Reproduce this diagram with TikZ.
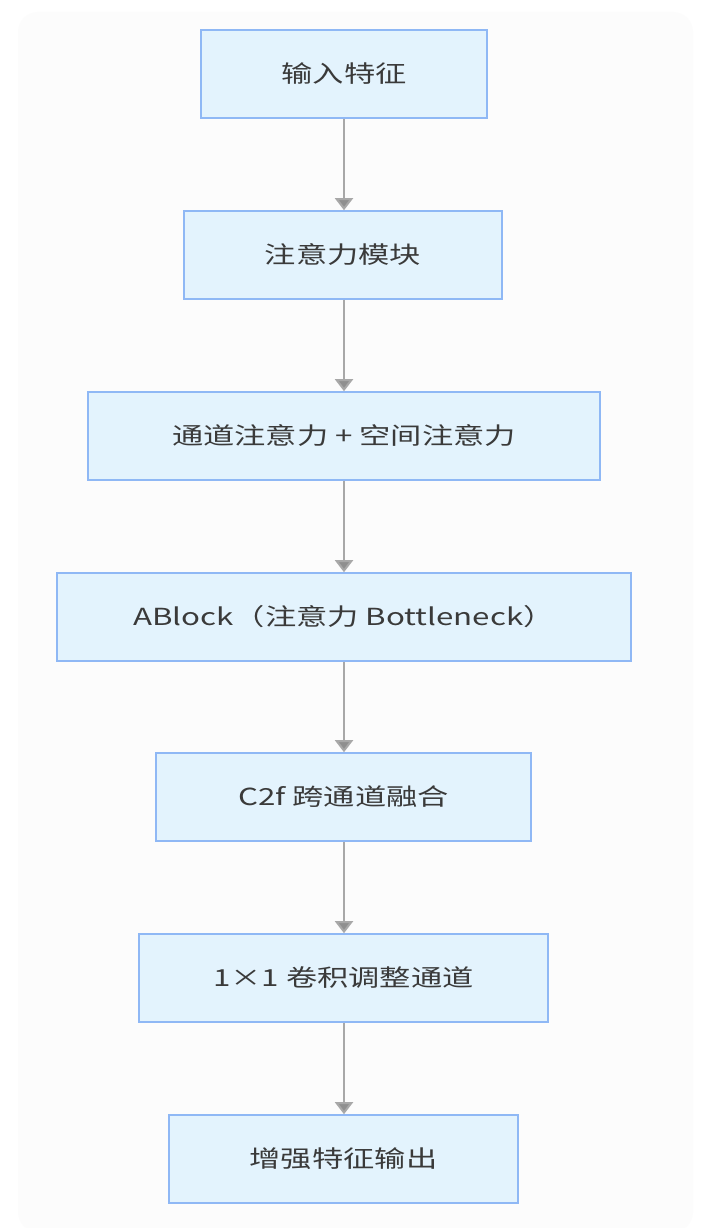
\documentclass[tikz,border=0pt]{standalone}
\usepackage{fontspec}
\setmainfont{Noto Sans CJK SC}
\usetikzlibrary{arrows.meta}
\definecolor{boxfill}{HTML}{E3F3FD}
\definecolor{boxline}{HTML}{8FB8F5}
\definecolor{txt}{HTML}{3A3A3A}
\definecolor{arr}{HTML}{A8A8A8}
\definecolor{bgpanel}{HTML}{FCFCFC}
\tikzset{
  flowbox/.style={draw=boxline, line width=1.6pt, fill=boxfill, minimum height=88pt,
    inner sep=0pt, text=txt},
  flowtext/.style={font=\fontsize{23.5}{28}\selectfont, xscale=1.33, inner sep=0pt, text=txt},
  flowarrow/.style={draw=arr, line width=2pt, -{Triangle[length=12pt,width=18pt,fill=arr!85!black]}}
}
\begin{document}
\begin{tikzpicture}[x=1pt,y=-1pt]
\useasboundingbox (0,0) rectangle (711,1228);
\fill[white] (0,0) rectangle (711,1228);
\fill[bgpanel, rounded corners=20pt] (18,12) rectangle (693,1232);
\node[flowbox, minimum width=286pt] (n1) at (344,74) {};
\node[flowbox, minimum width=318pt] (n2) at (343,255) {};
\node[flowbox, minimum width=512pt] (n3) at (344,436) {};
\node[flowbox, minimum width=574pt] (n4) at (344,617) {};
\node[flowbox, minimum width=375pt] (n5) at (343.5,797) {};
\node[flowbox, minimum width=409pt] (n6) at (343.5,978) {};
\node[flowbox, minimum width=349pt] (n7) at (343.5,1159) {};
\node[flowtext] (t1) at (n1) {输入特征};
\node[flowtext] (t2) at (n2) {注意力模块};
\node[flowtext] (t3) at (n3) {通道注意力 + 空间注意力};
\node[flowtext] (t4) at (n4) {ABlock（注意力 Bottleneck）};
\node[flowtext] (t5) at (n5) {C2f 跨通道融合};
\node[flowtext] (t6) at (n6) {1×1 卷积调整通道};
\node[flowtext] (t7) at (n7) {增强特征输出};
\foreach \a/\b in {n1/n2,n2/n3,n3/n4,n4/n5,n5/n6,n6/n7}
  \draw[flowarrow] (\a.south -| 344,0) -- (\b.north -| 344,0);
\end{tikzpicture}
\end{document}
